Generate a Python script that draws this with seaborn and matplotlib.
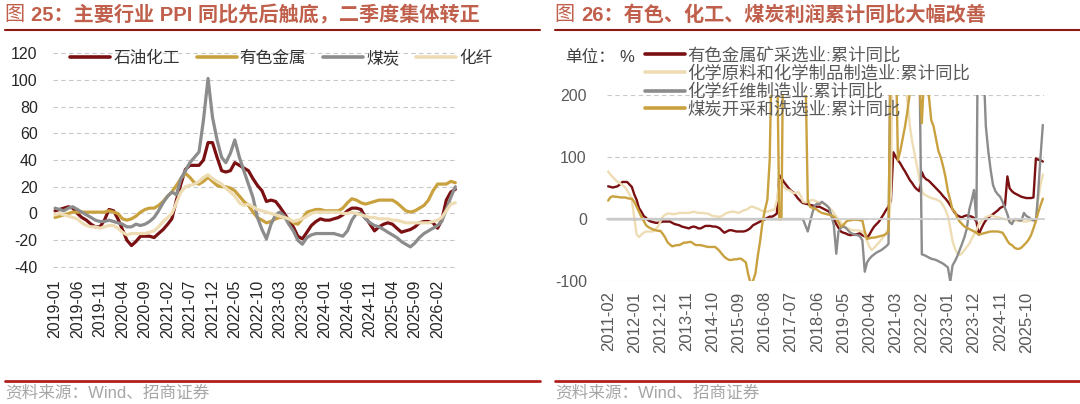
import pandas as pd
import matplotlib
matplotlib.use("Agg")
import matplotlib.pyplot as plt
import seaborn as sns

W, H = 1080, 404

# ============================
# 图25 数据：主要行业PPI同比(%)，月度，2019-01起
# ============================
ppi_start = "2019-01-01"
petro = [2, 3, 4, 5, 4, 0, -3, -5, -8, -10, -10, -5,
         3, 2, -4, -12, -20, -24, -21, -17, -17, -17, -18, -15,
         -12, -8, -4, 10, 22, 33, 36, 36, 36, 40, 53, 53,
         42, 32, 31, 32, 38, 36, 34, 32, 26, 21, 17, 9,
         10, 9, 5, 0, -5, -10, -17, -19, -14, -9, -6, -4,
         -5, -5, -4, -3, -1, 2, 4, 4, 3, -3, -8, -13,
         -10, -8, -7, -8, -11, -14, -13, -12, -10, -7, -6, -6,
         -7, -11, -5, 10, 16, 18]
metal = [-3, -2, -1, 0, 1, 1, 1, 1, 1, 1, 1, 1,
         2, 1, 0, -4, -5, -4, -2, 1, 3, 4, 4, 6,
         9, 13, 16, 21, 26, 30, 27, 23, 22, 24, 27, 24,
         21, 20, 20, 19, 17, 13, 9, 6, 1, -3, -5, -7,
         -6, -4, -3, -3, -4, -7, -8, -4, 1, 2, 3, 3,
         2, 2, 2, 2, 4, 8, 11, 10, 8, 7, 8, 9,
         10, 10, 10, 10, 8, 5, 2, 1, 2, 4, 6, 10,
         17, 22, 22, 22, 24, 23]
coal = [4, 3, 2, 4, 5, 3, 1, -1, -3, -5, -6, -6,
        -5, -6, -7, -8, -10, -10, -8, -9, -8, -6, -3, 2,
        8, 13, 16, 14, 26, 32, 38, 42, 46, 70, 101, 72,
        55, 42, 38, 45, 55, 42, 32, 22, 12, -3, -12, -19,
        -8, -1, 1, -2, -8, -13, -20, -23, -18, -16, -15, -15,
        -15, -15, -15, -16, -17, -13, -5, 0, 0, -4, -7, -9,
        -10, -12, -14, -16, -18, -21, -23, -25, -22, -18, -15, -13,
        -11, -9, -6, 3, 12, 20]
fiber = [-1, 0, -1, -2, -3, -4, -7, -9, -10, -10, -11, -10,
         -9, -9, -11, -14, -16, -15, -15, -15, -15, -14, -13, -10,
         -6, -3, 0, 8, 16, 20, 21, 22, 24, 27, 29, 26,
         24, 22, 19, 16, 13, 8, 6, 7, 5, 3, 2, 1,
         0, -1, -2, -3, -4, -6, -5, -4, -2, 0, 1, 1,
         1, 1, 1, 1, 0, 0, 1, 0, -1, -2, -3, -3,
         -4, -4, -4, -5, -5, -6, -7, -7, -7, -7, -7, -7,
         -6, -5, -3, 2, 7, 8]
ppi_names = ["石油化工", "有色金属", "煤炭", "化纤"]
ppi_colors = ["#7A1012", "#C9A13F", "#8C8C8C", "#EEDDB4"]

# ============================
# 图26 数据：利润累计同比(%)，月度，2011-02起
# ============================
profit_start = "2011-02-01"
nonferrous_mining = [53, 52, 51, 52, 53, 56, 60, 60, 60, 56, 52, 40,
                     31, 18, 12, 5, 2, -2, -4, -5, -6, -6, -5, -4,
                     -4, -4, -4, -6, -8, -9, -10, -12, -13, -14, -15, -13,
                     -12, -13, -15, -15, -13, -11, -11, -11, -12, -12, -13, -15,
                     -19, -22, -20, -18, -18, -19, -20, -20, -20, -20, -19, -17,
                     -14, -10, -8, -6, -4, -2, 0, 2, 4, 4, 6, 9,
                     71, 66, 60, 55, 50, 46, 43, 38, 33, 29, 26, 25,
                     24, 23, 22, 21, 20, 20, 18, 16, 14, 12, 6, 0,
                     -8, -14, -20, -22, -23, -25, -26, -25, -25, -24, -23, -26,
                     -28, -30, -25, -18, -12, -8, -4, 2, 8, 15, 20, 30,
                     108, 101, 95, 90, 83, 77, 70, 63, 58, 52, 48, 45,
                     76, 68, 64, 62, 58, 54, 50, 46, 42, 37, 33, 28,
                     22, 16, 10, 6, 4, 3, 5, 6, 5, 4, 2, -4,
                     -25, -16, -8, -2, 3, 5, 8, 11, 14, 18, 20, 22,
                     69, 50, 45, 42, 40, 38, 36, 35, 34, 34, 34, 35,
                     98, 96, 95, 93]
chem_materials = [77, 72, 68, 64, 60, 58, 55, 52, 47, 40, 31, 2,
                  -25, -29, -25, -22, -20, -20, -20, -20, -16, -12, -4, 4,
                  7, 9, 9, 8, 8, 9, 10, 10, 10, 10, 10, 11,
                  12, 11, 10, 10, 10, 9, 9, 7, 5, 5, 4, 4,
                  5, 8, 10, 11, 12, 12, 11, 10, 12, 14, 15, 17,
                  20, 20, 18, 17, 15, 13, 12, 12, 13, 15, 15, 30,
                  62, 58, 52, 48, 47, 45, 42, 42, 44, 38, 28, 27,
                  28, 30, 31, 30, 28, 27, 26, 24, 22, 18, 15, 10,
                  4, 0, -5, -10, -13, -15, -17, -18, -18, -18, -19, -20,
                  -25, -35, -45, -50, -46, -42, -38, -33, -28, -22, -15, 40,
                  400, 250, 220, 210, 205, 220, 190, 150, 125, 105, 85, 65,
                  45, 40, 38, 36, 34, 33, 32, 30, 28, 22, 15, 5,
                  -15, -35, -48, -55, -58, -55, -50, -45, -40, -32, -25, -18,
                  -8, -4, 0, 3, 5, 6, 5, 4, 3, 2, 1, 0,
                  -1, -2, -2, -2, -3, -3, -3, -4, -4, -3, -2, -2,
                  -1, 30, 55, 72]
chem_fiber = [0, 0, 0, 0, 0, 0, 0, 0, 0, 0, 0, 0,
              0, 0, 0, 0, 0, 0, 0, 0, 0, 0, 0, 0,
              0, 0, 0, 0, 0, 0, 0, 0, 0, 0, 0, 0,
              0, 0, 0, 0, 0, 0, 0, 0, 0, 0, 0, 0,
              0, 0, 0, 0, 0, 0, 0, 0, 0, 0, 0, 0,
              0, 0, 0, 0, 0, 0, 0, 0, 0, 0, 0, 0,
              0, 0, 0, 0, 0, 0, 0, 0, 0, 0, 0, -10,
              -20, -5, 10, 22, 25, 24, 28, 25, 22, 18, 5, -10,
              -56, -20, -14, -12, -14, -18, -22, -24, -25, -26, -28, -34,
              -85, -70, -64, -60, -57, -54, -52, -50, -47, -44, -40, 350,
              800, 600, 500, 450, 400, 380, 360, 340, 320, 300, 280, 260,
              -57, -58, -60, -62, -64, -65, -66, -68, -70, -72, -75, -78,
              -101, -75, -68, -60, -50, -40, -29, -15, 15, 30, 47, -2,
              500, 400, 250, 150, 110, 80, 55, 45, 40, 36, 28, 18,
              8, -5, -8, 0, 0, -2, -2, 10, 5, 3, 0, -2,
              -3, 40, 100, 152]
coal_mining = [30, 35, 37, 36, 36, 35, 35, 35, 34, 33, 33, 28,
               20, 12, 4, -3, -10, -13, -15, -17, -18, -19, -19, -24,
               -30, -37, -41, -44, -43, -42, -42, -40, -38, -38, -37, -37,
               -40, -42, -42, -42, -43, -44, -45, -45, -45, -45, -48, -52,
               -57, -61, -64, -66, -66, -65, -65, -64, -64, -67, -70, -90,
               -104, -100, -88, -60, -35, -5, 15, 31, 95, 300, 500, 300,
               0, 0, 400, 600, 550, 500, 450, 400, 350, 300, 280, 250,
               31, 20, 18, 17, 15, 12, 10, 9, 8, 7, 6, 4,
               0, -5, -12, -10, -5, -2, -2, -1, -1, -1, -2, -2,
               -20, -32, -31, -30, -30, -29, -28, -27, -26, -24, -20, 320,
               600, 300, 95, 110, 130, 150, 175, 205, 240, 260, 250, 220,
               155, 230, 240, 200, 160, 150, 130, 110, 100, 85, 68, 45,
               30, 15, 12, 2, -4, -8, -12, -14, -16, -18, -20, -22,
               -25, -24, -23, -22, -21, -20, -20, -20, -20, -21, -22, -28,
               -35, -40, -42, -46, -48, -48, -46, -42, -38, -33, -26, -15,
               -3, 10, 22, 33]
profit_names = ["有色金属矿采选业:累计同比", "化学原料和化学制品制造业:累计同比",
                "化学纤维制造业:累计同比", "煤炭开采和洗选业:累计同比"]
profit_colors = ["#7A1012", "#EEDDB4", "#8C8C8C", "#C9A13F"]

# ---- long tables for seaborn ----
ppi_dates = pd.date_range(ppi_start, periods=len(petro), freq="MS")
ppi_df = pd.DataFrame({"date": ppi_dates,
                       **dict(zip(ppi_names, [petro, metal, coal, fiber]))})
ppi_df = ppi_df.melt("date", var_name="series", value_name="value")

profit_dates = pd.date_range(profit_start, periods=len(nonferrous_mining), freq="MS")
profit_df = pd.DataFrame({"date": profit_dates,
                          **dict(zip(profit_names, [nonferrous_mining, chem_materials,
                                                    chem_fiber, coal_mining]))})
profit_df = profit_df.melt("date", var_name="series", value_name="value")

sns.set_style("white")
plt.rcParams["font.family"] = ["Liberation Sans", "Noto Sans CJK SC", "DejaVu Sans"]
plt.rcParams["axes.unicode_minus"] = False

fig = plt.figure(figsize=(W / 100, H / 100), dpi=100)
title_color = "#C0604C"
day = pd.Timedelta(days=1)

# ============================
# 左图
# ============================
ax1 = fig.add_axes([53 / W, 1 - 268.3 / H, (458 - 53) / W, (268.3 - 51.7) / H])
sns.lineplot(data=ppi_df, x="date", y="value", hue="series", hue_order=ppi_names,
             palette=ppi_colors, linewidth=2.3, ax=ax1)
ax1.set_ylim(-41, 121)
ax1.set_yticks(range(-40, 121, 20))
ax1.set_xlim(ppi_dates[0] - 14 * day, ppi_dates[-1] + 18 * day)
ax1.set_xticks(ppi_dates[::5])
ax1.set_xticklabels([d.strftime("%Y-%m") for d in ppi_dates[::5]], rotation=90)
ax1.grid(axis="y", color="#C8C8C8", linestyle=(0, (4, 3)), linewidth=0.8)
ax1.grid(axis="x", visible=False)
for s in ax1.spines.values():
    s.set_visible(False)
ax1.tick_params(length=0, labelsize=11.5, colors="#262626")
ax1.tick_params(axis="y", pad=11)
ax1.tick_params(axis="x", pad=8)
ax1.set_xlabel("")
ax1.set_ylabel("")

leg = ax1.get_legend()
handles, labels = leg.legend_handles, [t.get_text() for t in leg.get_texts()]
for h in handles:
    h.set_linewidth(2.6)
ax1.legend(handles, labels, ncol=4, loc="center left",
           bbox_to_anchor=(70 / W, 1 - 58 / H), bbox_transform=fig.transFigure,
           frameon=False, fontsize=12, handlelength=2.4, handletextpad=0.2,
           columnspacing=1.0, borderpad=0, borderaxespad=0, labelcolor="#333333")

# ============================
# 右图
# ============================
ax2 = fig.add_axes([607 / W, 1 - 281 / H, (1044 - 607) / W, (281 - 95.3) / H])
sns.lineplot(data=profit_df, x="date", y="value", hue="series", hue_order=profit_names,
             palette=profit_colors, linewidth=1.7, ax=ax2)
ax2.set_ylim(-100, 200)
ax2.set_yticks([-100, 0, 100, 200])
ax2.set_xlim(profit_dates[0] - 15 * day, profit_dates[-1] + 15 * day)
ax2.grid(axis="y", color="#C8C8C8", linestyle=(0, (4, 3)), linewidth=0.8)
ax2.grid(axis="x", visible=False)
for k in ["top", "right", "left"]:
    ax2.spines[k].set_visible(False)
ax2.spines["bottom"].set_position(("data", 0))
ax2.spines["bottom"].set_color("#D0D0D0")
ax2.spines["bottom"].set_linewidth(1.3)
# ticks after moving the spine, which resets them
ax2.set_xticks(profit_dates[::11])
ax2.set_xticklabels([d.strftime("%Y-%m") for d in profit_dates[::11]], rotation=90)
ax2.tick_params(axis="x", length=4, color="#D0D0D0", direction="out", pad=48,
                labelsize=12, labelcolor="#595959")
ax2.tick_params(axis="y", length=0, pad=14.5, labelsize=11.5, labelcolor="#595959")
ax2.set_xlabel("")
ax2.set_ylabel("")

leg = ax2.get_legend()
handles, labels = leg.legend_handles, [t.get_text() for t in leg.get_texts()]
for h in handles:
    h.set_linewidth(2.6)
ax2.legend(handles, labels, ncol=1, loc="upper left",
           bbox_to_anchor=(645 / W, 1 - 47 / H), bbox_transform=fig.transFigure,
           frameon=False, fontsize=12.5, handlelength=2.3, handletextpad=0.15,
           labelspacing=0.08, borderpad=0, borderaxespad=0, labelcolor="#595959")
fig.text(565 / W, 1 - 57 / H, "单位：", fontsize=12, color="#404040", va="center")
fig.text(619 / W, 1 - 57 / H, "%", fontsize=12, color="#404040", va="center")

# ============================
# 标题、分隔线、资料来源
# ============================
renderer = fig.canvas.get_renderer()


def put_title(x_px, num, rest):
    t = fig.text(x_px / W, 1 - 15 / H, "图 ", fontsize=14.5, color=title_color, va="center")
    bb = t.get_window_extent(renderer)
    fig.text(bb.x1 / W, 1 - 15 / H, num + "：" + rest, fontsize=14.5, color=title_color,
             va="center", fontweight="bold")


put_title(5, "25", "主要行业 PPI 同比先后触底，二季度集体转正")
put_title(555, "26", "有色、化工、煤炭利润累计同比大幅改善")

for x0, x1 in [(5, 540), (555, 1080)]:
    fig.add_artist(plt.Line2D([x0 / W, x1 / W], [1 - 30 / H] * 2, color="#8C1C13",
                              linewidth=1.5, transform=fig.transFigure))
    fig.add_artist(plt.Line2D([x0 / W, x1 / W], [1 - 381 / H] * 2, color="#B0201E",
                              linewidth=2, transform=fig.transFigure))
    fig.text(x0 / W, 1 - 393 / H, "资料来源：Wind、招商证券", fontsize=12,
             color="#A6A6A6", va="center")

fig.savefig("out.png", dpi=100)
